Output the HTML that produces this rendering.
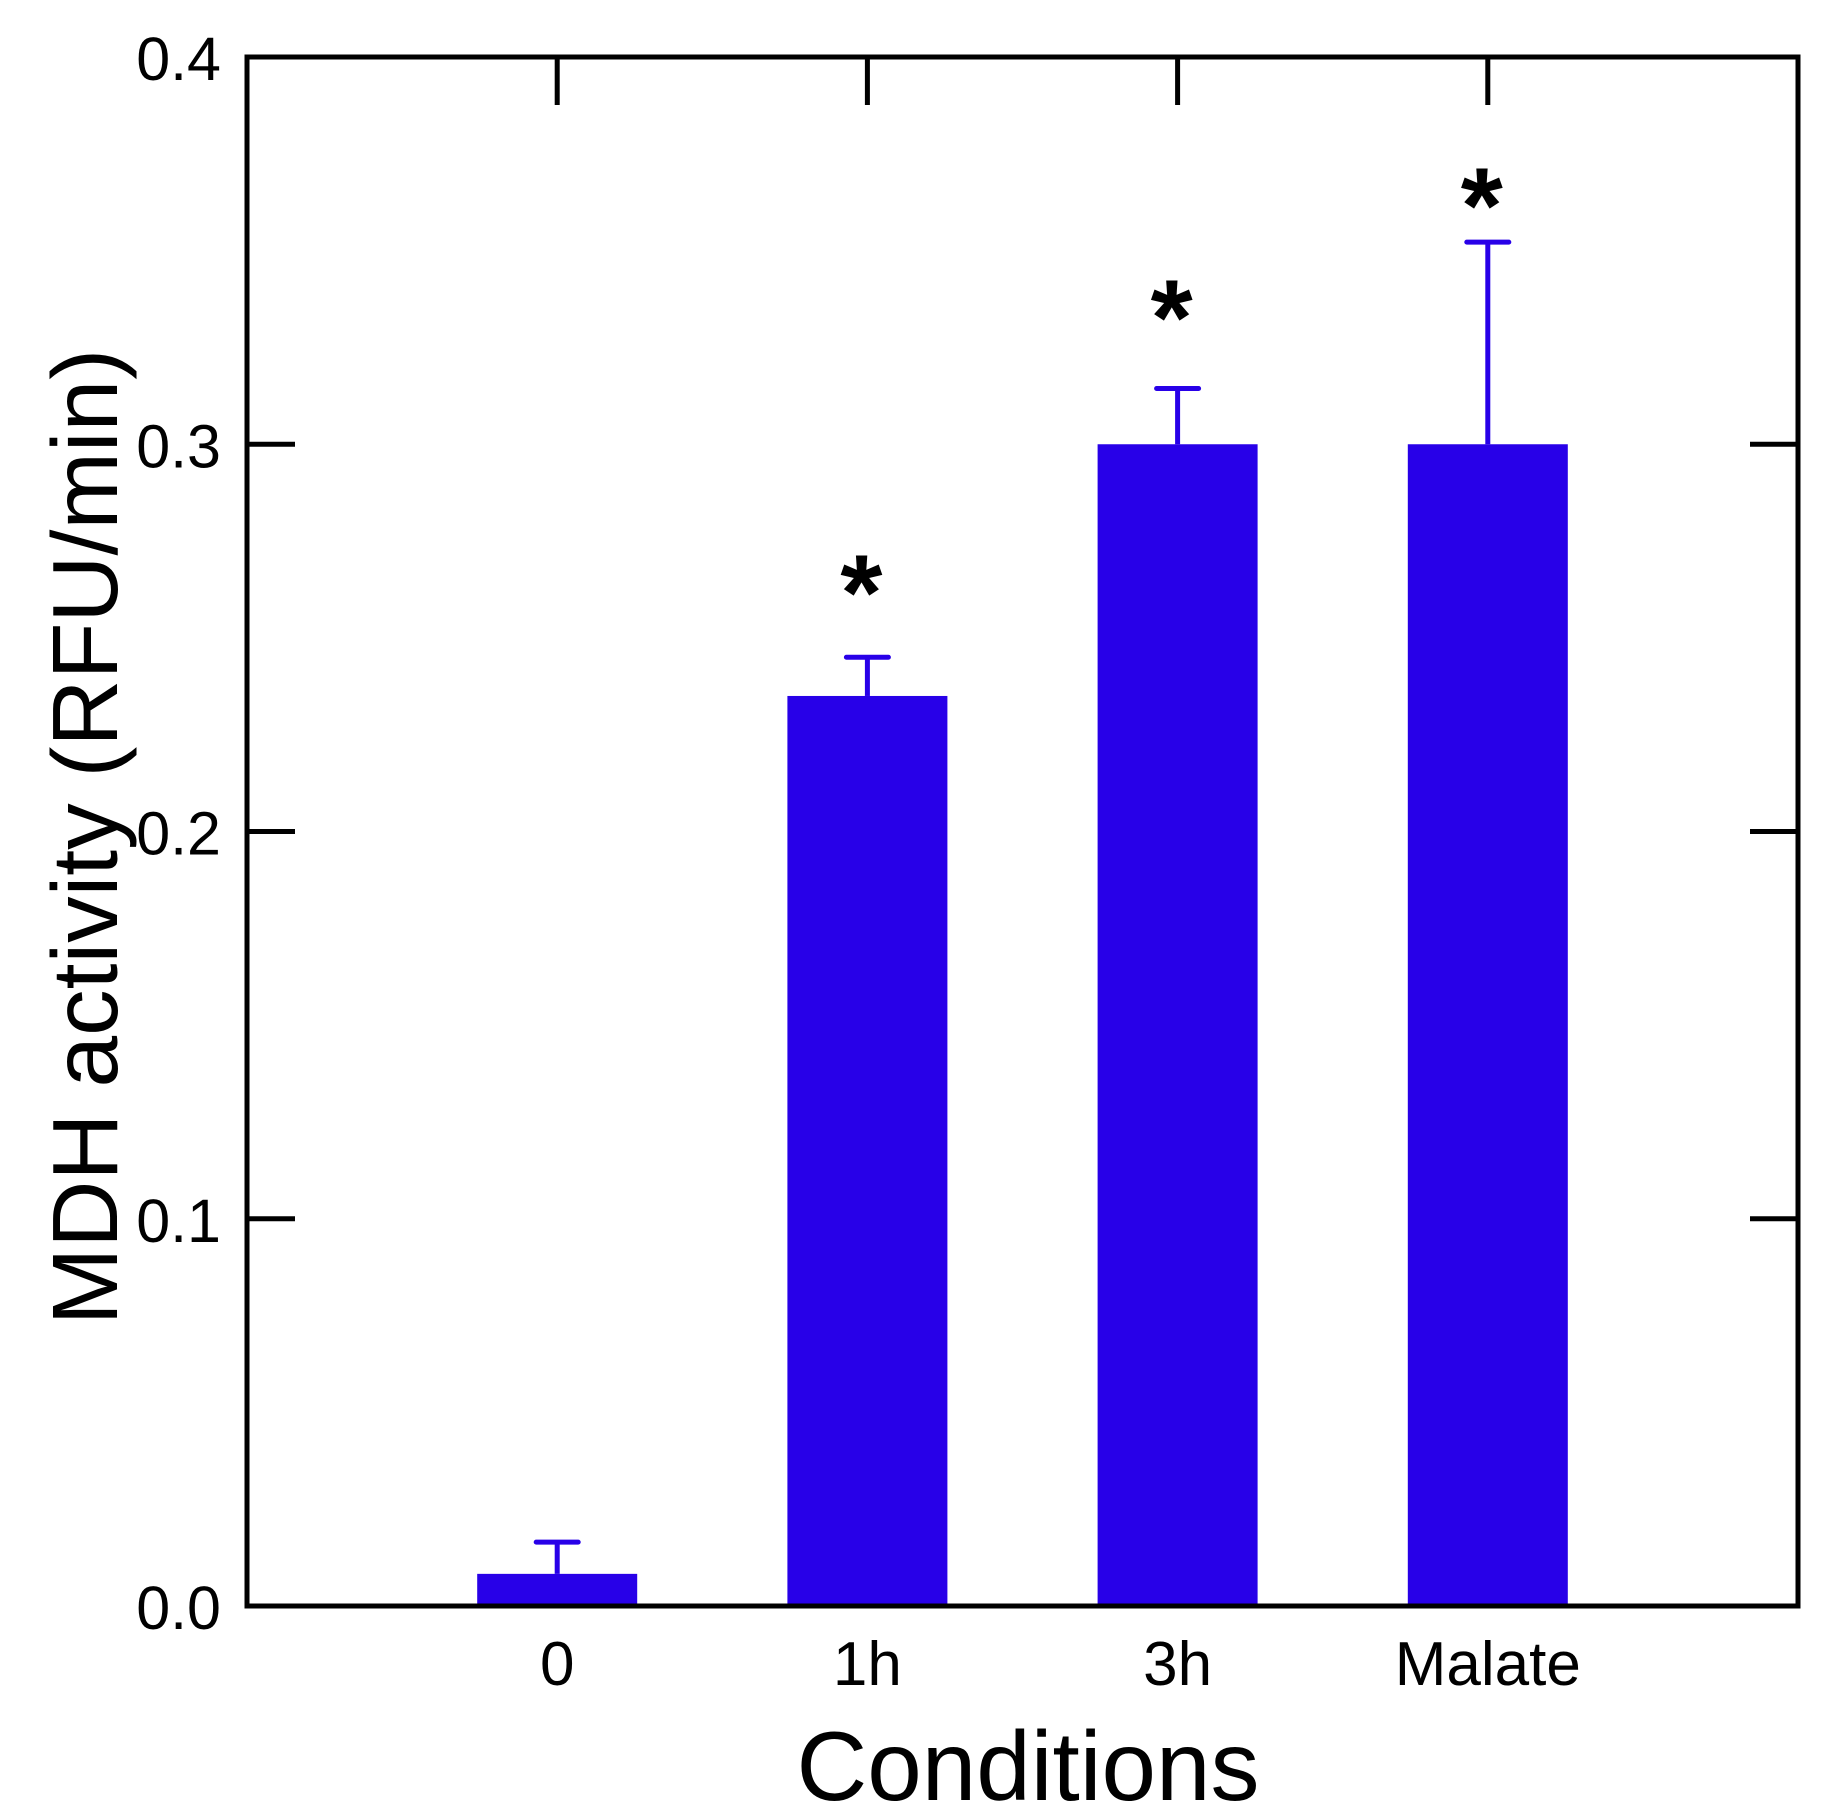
<!DOCTYPE html>
<html><head><meta charset="utf-8"><style>
html,body{margin:0;padding:0;background:#fff;}
svg{display:block;font-family:"Liberation Sans",Arial,sans-serif;}
</style></head>
<body>
<svg id="chart" width="1824" height="1810" viewBox="0 0 1824 1810">
<g id="plot"></g>
</svg>
<script>
const categories = ["0", "1h", "3h", "Malate"];
const values = [0.0083, 0.235, 0.300, 0.300];
const errors = [0.0082, 0.010, 0.0144, 0.0522];
const significant = [false, true, true, true];
const asteriskLevels = [0, 0.263, 0.334, 0.363];
const yTicks = [0.0, 0.1, 0.2, 0.3, 0.4];
const yTickLabels = ["0.0", "0.1", "0.2", "0.3", "0.4"];

const L = 247, R = 1798, T = 57, B = 1606;
const NS = "http://www.w3.org/2000/svg";
const g = document.getElementById('plot');
const yScale = v => B - (v / 0.4) * (B - T);
const xScale = i => L + (i + 1) * (R - L) / 5;
const BAR_W = 160, BLUE = "#2800e8";

function mk(tag, attrs, text) {
  const e = document.createElementNS(NS, tag);
  for (const k in attrs) e.setAttribute(k, attrs[k]);
  if (text !== undefined) e.textContent = text;
  g.appendChild(e);
  return e;
}

categories.forEach((c, i) => {
  const cx = xScale(i), y = yScale(values[i]);
  const bar = mk('rect', {x: cx - BAR_W / 2, y: y, width: BAR_W, height: B + 2 - y, fill: BLUE});
  
  
  const ey = yScale(values[i] + errors[i]);
  const el = mk('line', {x1: cx, x2: cx, y1: y, y2: ey, stroke: BLUE, 'stroke-width': 5});
  
  
  const cap = mk('line', {x1: cx - 21, x2: cx + 21, y1: ey, y2: ey, stroke: BLUE, 'stroke-width': 5, 'stroke-linecap': 'round'});
  
  
  if (significant[i]) {
    const ay = yScale(asteriskLevels[i]);
    const s = mk('text', {x: cx - 6, y: ay + 42, 'font-size': 108, 'font-weight': 'bold', 'text-anchor': 'middle'}, '*');
    
    
  }
  const tt = mk('line', {x1: cx, x2: cx, y1: T, y2: T + 48, stroke: '#000', 'stroke-width': 5});
  
  
  const lab = mk('text', {x: cx, y: 1685, 'font-size': 62, 'text-anchor': 'middle'}, c);
  
  
});

yTicks.forEach((v, i) => {
  const y = yScale(v);
  if (i > 0 && i < yTicks.length - 1) {
    const lt = mk('line', {x1: L, x2: L + 48, y1: y, y2: y, stroke: '#000', 'stroke-width': 5});
    
    
    const rt = mk('line', {x1: R - 48, x2: R, y1: y, y2: y, stroke: '#000', 'stroke-width': 5});
    
    
  }
  const t = mk('text', {x: 221, y: y + 23, 'font-size': 61, 'text-anchor': 'end'}, yTickLabels[i]);
  
  
});

const z = mk('line', {x1: L, x2: L + 24, y1: B, y2: B, stroke: BLUE, 'stroke-width': 5});



const frame = mk('rect', {x: L, y: T, width: R - L, height: B - T, fill: 'none', stroke: '#000', 'stroke-width': 5});



const xt = mk('text', {x: 1028, y: 1800, 'font-size': 98, 'text-anchor': 'middle'}, 'Conditions');


const yt = mk('text', {x: 0, y: 0, 'font-size': 93, 'text-anchor': 'middle', transform: 'translate(117,837) rotate(-90)'}, 'MDH activity (RFU/min)');


</script>
</body></html>
